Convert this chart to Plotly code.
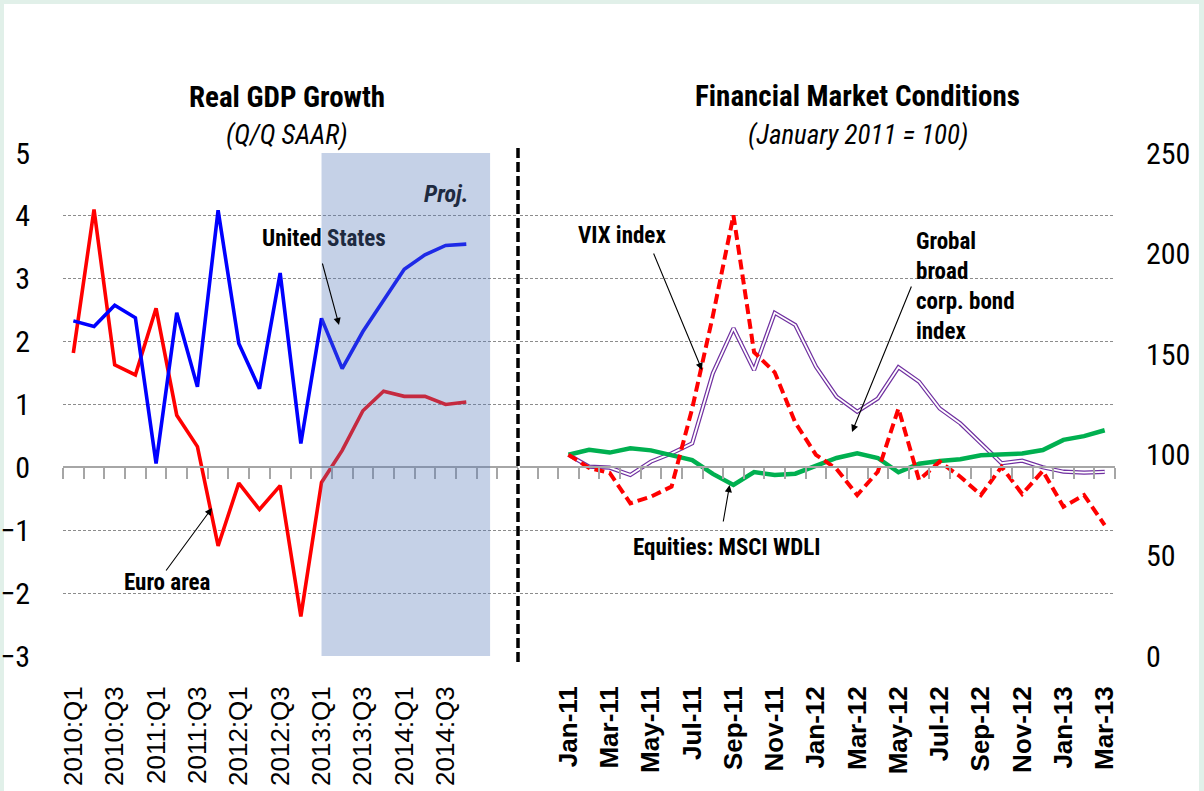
import plotly.graph_objects as go

# ---------------- data ----------------
quarters = ["2010:Q1", "2010:Q2", "2010:Q3", "2010:Q4",
            "2011:Q1", "2011:Q2", "2011:Q3", "2011:Q4",
            "2012:Q1", "2012:Q2", "2012:Q3", "2012:Q4",
            "2013:Q1", "2013:Q2", "2013:Q3", "2013:Q4",
            "2014:Q1", "2014:Q2", "2014:Q3", "2014:Q4"]
euro_area = [1.82, 4.10, 1.63, 1.47, 2.53, 0.83, 0.33, -1.25, -0.25, -0.67,
             -0.29, -2.37, -0.24, 0.27, 0.90, 1.21, 1.13, 1.13, 1.00, 1.04]
united_states = [2.33, 2.24, 2.58, 2.38, 0.06, 2.46, 1.28, 4.09, 1.97, 1.25,
                 3.09, 0.38, 2.37, 1.57, 2.16, 2.66, 3.15, 3.38, 3.53, 3.55]
proj_start = "2013:Q1"

months = ["Jan-11", "Feb-11", "Mar-11", "Apr-11", "May-11", "Jun-11", "Jul-11",
          "Aug-11", "Sep-11", "Oct-11", "Nov-11", "Dec-11", "Jan-12", "Feb-12",
          "Mar-12", "Apr-12", "May-12", "Jun-12", "Jul-12", "Aug-12", "Sep-12",
          "Oct-12", "Nov-12", "Dec-12", "Jan-13", "Feb-13", "Mar-13"]
equities = [100, 102.5, 101.1, 103.2, 102.2, 100, 97.4, 90.5, 85, 91.4, 90, 90.6,
            94.4, 98.4, 100.7, 98.4, 91.3, 95.6, 96.9, 97.8, 99.8, 100.1, 100.6,
            102.4, 107.4, 109.3, 112.2]
vix = [100, 93.5, 91, 75.9, 79.2, 84.2, 123, 169, 219, 151, 141, 116, 100, 93,
       80, 91.6, 123, 87.5, 96.6, 89.1, 80, 94, 80.5, 92, 74.2, 80, 65]
bond = [100, 94.1, 93.6, 90, 96.6, 100.7, 105.7, 140.5, 162.9, 142.1, 170.6, 164.5,
        143.8, 128.9, 121.4, 128, 143.5, 136.3, 123, 115.6, 105.7, 95.8, 97.1,
        93.8, 91.6, 91.1, 91.5]

left_range = [-3, 5]
right_range = [0, 250]

# ---------------- geometry helpers ----------------
W, H = 1204, 791
def fx(px):
    return px / W
def fy(py):
    return 1 - py / H

NARROW = "Liberation Sans Narrow, Arial Narrow, Roboto Condensed, sans-serif"
SANS = "Liberation Sans, Arial, sans-serif"
GRID = "#8c8c8c"
AXC = "#a6a6a6"

ydom = [fy(656), fy(153)]
zero_pos = ydom[0] + (0 - left_range[0]) / (left_range[1] - left_range[0]) * (ydom[1] - ydom[0])

xl = list(range(len(quarters)))
xr = list(range(len(months)))

fig = go.Figure()

# Left panel
fig.add_trace(go.Scatter(x=xl, y=euro_area, mode="lines", line=dict(color="#ff0000", width=3.6),
                         xaxis="x", yaxis="y", hoverinfo="skip"))
fig.add_trace(go.Scatter(x=xl, y=united_states, mode="lines", line=dict(color="#0000ff", width=3.6),
                         xaxis="x", yaxis="y", hoverinfo="skip"))
fig.add_trace(go.Scatter(x=[None], y=[None], xaxis="x3", yaxis="y", hoverinfo="skip"))

# Right panel
fig.add_trace(go.Scatter(x=xr, y=bond, mode="lines", line=dict(color="#7030a0", width=4.2),
                         xaxis="x2", yaxis="y2", hoverinfo="skip"))
fig.add_trace(go.Scatter(x=xr, y=bond, mode="lines", line=dict(color="#ffffff", width=1.8),
                         xaxis="x2", yaxis="y2", hoverinfo="skip"))
fig.add_trace(go.Scatter(x=xr, y=equities, mode="lines", line=dict(color="#00b050", width=4.5),
                         xaxis="x2", yaxis="y2", hoverinfo="skip"))
fig.add_trace(go.Scatter(x=xr, y=vix, mode="lines", line=dict(color="#ff0000", width=4, dash="10px,5px"),
                         xaxis="x2", yaxis="y2", hoverinfo="skip"))
fig.add_trace(go.Scatter(x=[None], y=[None], xaxis="x4", yaxis="y2", hoverinfo="skip"))

right_left_px, right_first_tick_px, month_px = 520, 537.5, 20.6
r_lo = -1.5 - (right_first_tick_px - right_left_px) / month_px

fig.update_layout(
    width=W, height=H, margin=dict(l=0, r=0, t=0, b=0, autoexpand=False),
    paper_bgcolor="#e1f0e9", plot_bgcolor="rgba(0,0,0,0)", showlegend=False,
    xaxis=dict(domain=[fx(63), fx(518)], range=[-0.5, len(quarters) + 1.5], anchor="y",
               tickvals=xl[::2], ticktext=quarters[::2], tickangle=-90, automargin=False,
               ticks="", showline=False, showgrid=False, zeroline=False,
               tickfont=dict(family=SANS, size=26, color="black"), ticklabelstandoff=24),
    xaxis3=dict(overlaying="x", anchor="free", position=zero_pos, automargin=False,
                range=[-0.5, len(quarters) + 1.5],
                tickvals=[i - 0.5 for i in range(len(quarters) + 3)],
                ticks="outside", ticklen=11, tickwidth=2, tickcolor=AXC,
                showline=True, linecolor=AXC, linewidth=2, showticklabels=False,
                showgrid=False, zeroline=False),
    yaxis=dict(domain=ydom, range=left_range, dtick=1, anchor="x", automargin=False,
               showgrid=True, gridcolor=GRID, griddash="3px,2px", gridwidth=1,
               zeroline=False, showline=False, ticks="",
               tickfont=dict(family=NARROW, size=30, color="black"), ticklabelstandoff=32),
    xaxis2=dict(domain=[fx(520), fx(1115)], range=[r_lo, len(months) - 0.5], anchor="y2",
                tickvals=xr[::2], ticktext=months[::2], tickangle=-90, automargin=False,
                ticks="", showline=False, showgrid=False, zeroline=False,
                tickfont=dict(family=SANS, size=26, color="black", weight="bold"),
                ticklabelstandoff=24),
    xaxis4=dict(overlaying="x2", anchor="free", position=zero_pos, automargin=False,
                range=[r_lo, len(months) - 0.5],
                tickvals=[i - 1.5 for i in range(len(months) + 2)],
                ticks="outside", ticklen=11, tickwidth=2, tickcolor=AXC,
                showline=True, linecolor=AXC, linewidth=2, showticklabels=False,
                showgrid=False, zeroline=False),
    yaxis2=dict(domain=ydom, range=right_range, anchor="x2", side="right", automargin=False,
                tickvals=list(range(0, 251, 50)), showgrid=False, zeroline=False,
                showline=False, ticks="",
                minor=dict(tickvals=[right_range[1] * k / 8 for k in range(9)], showgrid=True,
                           gridcolor=GRID, griddash="3px,2px", gridwidth=1, ticks=""),
                tickfont=dict(family=NARROW, size=30, color="black"), ticklabelstandoff=30),
)

# background white panel (border mint)
fig.add_shape(type="rect", xref="paper", yref="paper", x0=fx(4), x1=fx(1199), y0=fy(800), y1=fy(4),
              fillcolor="white", line=dict(width=0), layer="below")

# projection shading (semi-transparent overlay above lines)
fig.add_shape(type="rect", xref="x", yref="y", x0=quarters.index(proj_start), x1=len(quarters) + 0.15,
              y0=left_range[0], y1=left_range[1], fillcolor="rgb(87,122,186)", opacity=0.345,
              line=dict(width=0), layer="above")

# dashed separator
fig.add_shape(type="line", xref="paper", yref="paper", x0=fx(518), x1=fx(518), y0=fy(662), y1=fy(148),
              line=dict(color="black", width=3.5, dash="10px,4px"))

def text(px, py, t, size=23, font=NARROW, weight="bold", color="black", xanchor="center", yanchor="middle", align="center"):
    fig.add_annotation(xref="paper", yref="paper", x=fx(px), y=fy(py), text=t, showarrow=False,
                       font=dict(family=font, size=size, color=color, weight=weight),
                       xanchor=xanchor, yanchor=yanchor, align=align)

def arrow(tx, ty, sx, sy):
    fig.add_annotation(xref="paper", yref="paper", x=fx(tx), y=fy(ty), ax=sx - tx, ay=sy - ty,
                       text="", showarrow=True, arrowhead=2, arrowsize=1.3, arrowwidth=1.1,
                       arrowcolor="black")

text(287, 97, "Real GDP Growth", size=29)
text(287, 135, "<i>(Q/Q SAAR)</i>", size=27, weight="normal")
text(858, 96, "Financial Market Conditions", size=29)
text(858, 135, "<i>(January 2011 = 100)</i>", size=27, weight="normal")
text(446, 194, "<i>Proj.</i>", size=24, color="#1e2a40")
text(324, 239, "United <span style='color:#1e2a40'>States</span>", size=23)
text(167, 582, "Euro area", size=23)
text(622, 236, "VIX index", size=23)
text(914, 226, "Grobal<br>broad<br>corp. bond<br>index", size=23, xanchor="left", yanchor="top", align="left")
text(726, 547, "Equities: MSCI WDLI", size=23)

arrow(339, 325, 322, 262)
arrow(212, 508, 165, 572)
arrow(702, 370, 653, 252)
arrow(852, 432, 912, 285)
arrow(729.6, 485, 723, 523)

fig.write_html("out.html", config={"displayModeBar": False},
               post_script="document.body.style.margin='0';document.body.style.overflow='hidden';")
